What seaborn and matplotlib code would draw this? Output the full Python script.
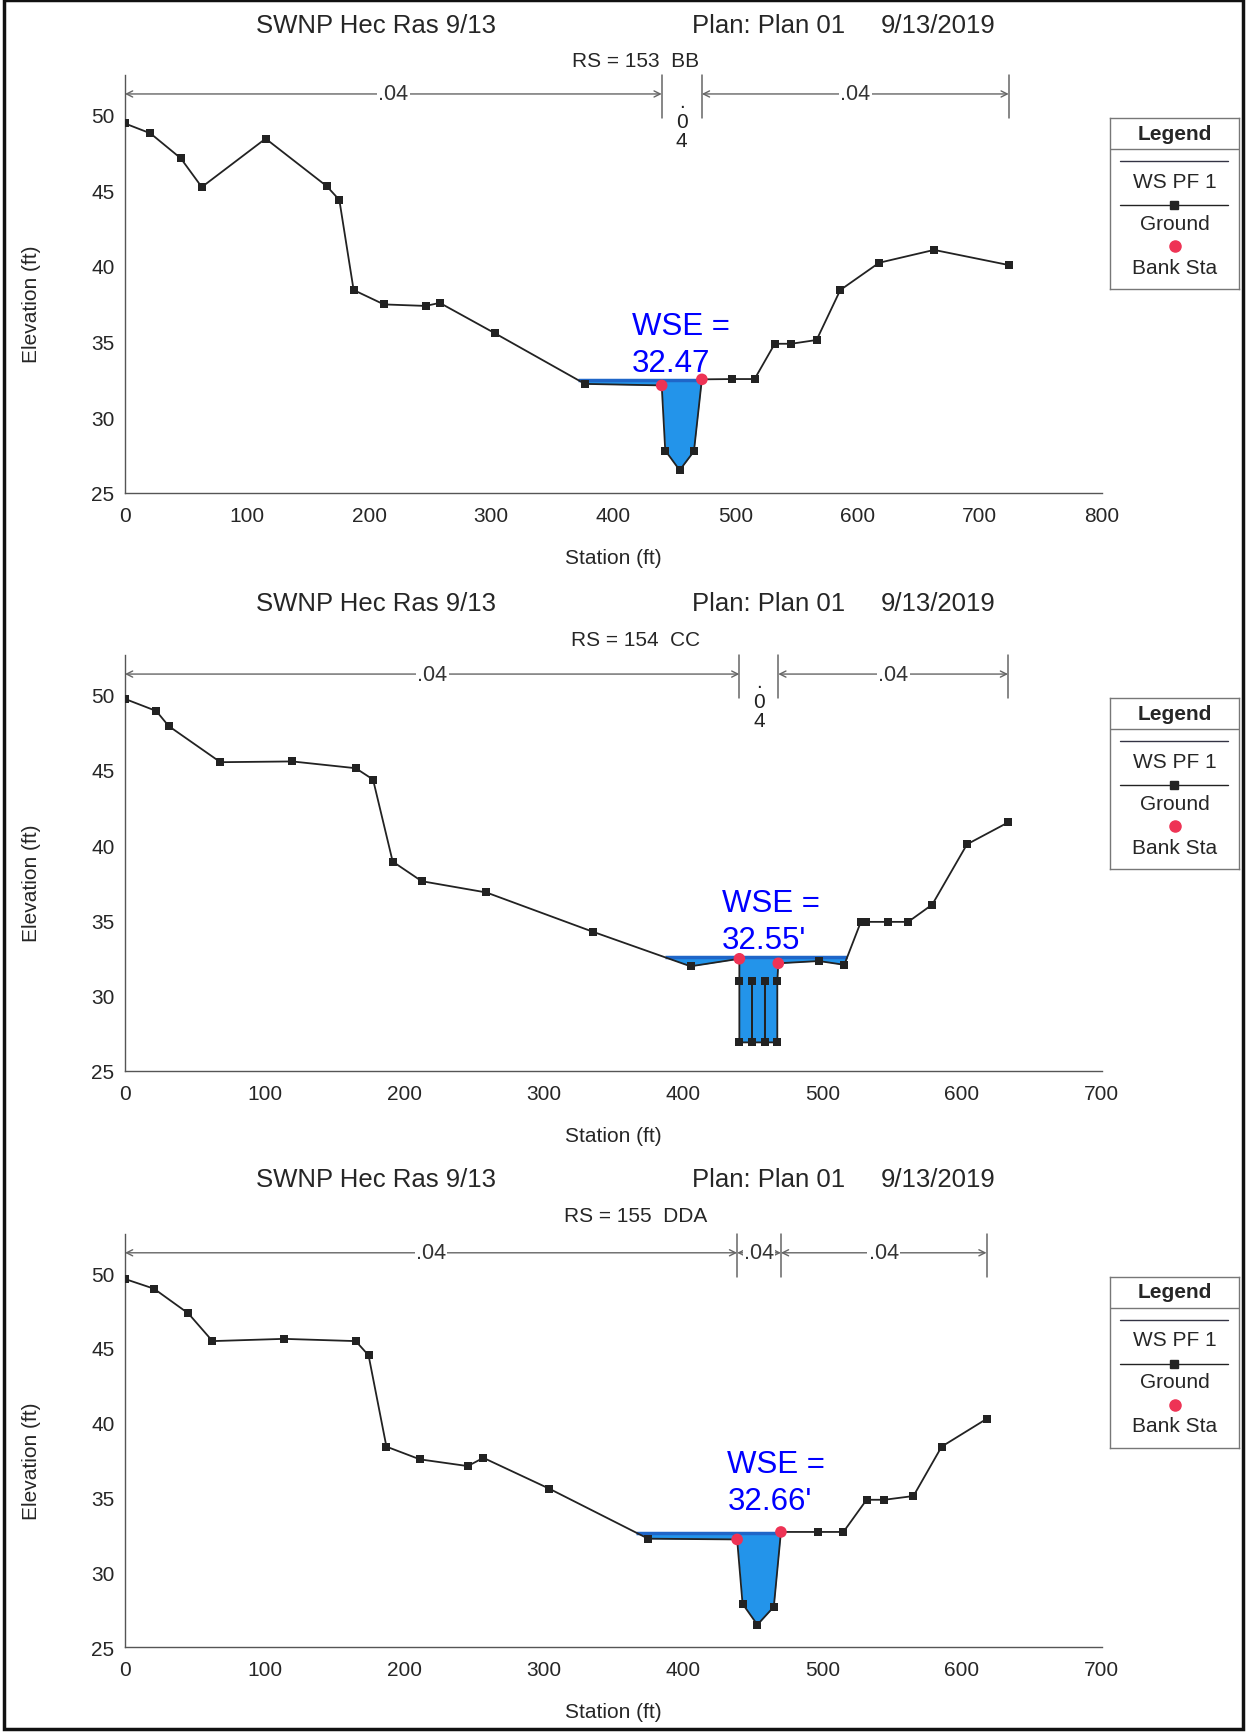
import numpy as np
import seaborn as sns
import matplotlib.pyplot as plt
from matplotlib.patches import Rectangle
from matplotlib.ticker import MultipleLocator

section_names = ["RS = 153  BB", "RS = 154  CC", "RS = 155  DDA"]
ws_elev = [32.47, 32.55, 32.66]
ws_suffix = ["", "'", "'"]
n_values = [".04", ".04", ".04"]

station_153 = [0, 20.8, 45.7, 62.9, 115.2, 165.4, 175.6, 187.3, 212.1, 246.2, 257.9,
               302.9, 376.8, 439.7, 442.6, 454.4, 466.1, 472.6, 497.4, 515.8, 532.3,
               545.8, 566.6, 586.0, 617.8, 662.8, 724.0]
elev_153 = [49.4, 48.75, 47.1, 45.2, 48.4, 45.25, 44.35, 38.4, 37.45, 37.35, 37.55,
            35.55, 32.2, 32.1, 27.8, 26.5, 27.75, 32.5, 32.52, 32.52, 34.85,
            34.85, 35.1, 38.4, 40.2, 41.05, 40.05]
bank_153 = [439.7, 472.6]

station_154 = [0, 22.4, 31.3, 68.4, 119.9, 165.4, 177.8, 191.9, 212.7, 259.1, 335.2,
               405.4, 440.4, 440.4, 440.4, 449.4, 449.4, 449.4, 458.7, 458.7, 458.7,
               467.6, 467.6, 468.3, 497.4, 515.6, 527.5, 531.0, 546.7, 561.4, 578.7,
               603.6, 633.0]
elev_154 = [49.7, 48.9, 47.9, 45.5, 45.55, 45.1, 44.35, 38.9, 37.6, 36.85, 34.25,
            31.95, 32.45, 30.95, 26.9, 26.9, 30.95, 26.9, 26.9, 30.95, 26.9,
            26.9, 30.95, 32.15, 32.3, 32.05, 34.9, 34.9, 34.9, 34.9, 36.05,
            40.05, 41.5]
bank_154 = [440.4, 468.3]

station_155 = [0, 20.8, 45.4, 62.7, 113.9, 165.4, 174.6, 187.4, 211.4, 245.7, 256.9,
               303.9, 375.0, 438.8, 442.7, 453.3, 465.1, 470.2, 496.7, 515.0, 531.6,
               544.4, 565.2, 585.4, 617.6]
elev_155 = [49.6, 48.95, 47.3, 45.45, 45.6, 45.45, 44.5, 38.4, 37.55, 37.1, 37.65,
            35.6, 32.25, 32.2, 27.9, 26.5, 27.7, 32.7, 32.7, 32.7, 34.85,
            34.85, 35.1, 38.4, 40.25]
bank_155 = [438.8, 470.2]

stations = [station_153, station_154, station_155]
elevs = [elev_153, elev_154, elev_155]
banks = [bank_153, bank_154, bank_155]
x_max = [800, 700, 700]
x_minor = [50, 20, 20]
stacked_mid = [True, True, False]

# ---- layout (pixels of the 1246 x 1733 page) ----
W, H = 1246, 1733
y25_px = [493.9, 1072.0, 1648.2]
y50_px = [115.4, 695.4, 1274.0]
wse_pos = [(415, 35.5, 33.07), (427.7, 35.6, 33.15), (431.8, 36.73, 34.26)]
YTOP = 52.6

GROUND = "#222222"
WATER = "#2394EA"
WS_LINE = "#1F66C8"
BANK = "#EE3355"
NGRAY = "#666666"


def fx(x):
    return x / W


def fy(y):
    return 1 - y / H


sns.set_style("white")
plt.rcParams["font.family"] = ["Liberation Sans", "DejaVu Sans"]

fig = plt.figure(figsize=(12.46, 17.33), dpi=100)

for i in range(3):
    st = np.array(stations[i], dtype=float)
    el = np.array(elevs[i], dtype=float)
    ws = ws_elev[i]
    y25, y50 = y25_px[i], y50_px[i]
    ppf = (y25 - y50) / 25.0
    ytop = y50 - (YTOP - 50) * ppf
    ax = fig.add_axes([fx(125), fy(y25), fx(1101.5) - fx(125), (y25 - ytop) / H])

    # water
    wet = el < ws
    ax.fill_between(st, el, ws, where=wet, interpolate=True, color=WATER, lw=0, zorder=2)
    idx = np.where(wet)[0]
    i0, i1 = idx[0], idx[-1]
    xl = np.interp(ws, [el[i0], el[i0 - 1]], [st[i0], st[i0 - 1]])
    xr = np.interp(ws, [el[i1], el[i1 + 1]], [st[i1], st[i1 + 1]])
    ax.plot([xl, xr], [ws, ws], color=WS_LINE, lw=2.5, zorder=3, solid_capstyle="butt")

    # ground
    sns.lineplot(x=st, y=el, sort=False, estimator=None, color=GROUND, lw=1.3,
                 marker="s", markersize=5.5, markeredgewidth=0, ax=ax, zorder=4)

    # bank stations
    bx = banks[i]
    by = [el[np.where(st == b)[0][0]] for b in bx]
    sns.scatterplot(x=bx, y=by, color=BANK, s=70, edgecolor="none", zorder=5,
                    ax=ax, legend=False)

    # WSE callout
    wx, wy1, wy2 = wse_pos[i]
    ax.text(wx, wy1, "WSE =", color="#0000FF", fontsize=22.5, ha="left", va="baseline", zorder=6)
    ax.text(wx, wy2, f"{ws:.2f}{ws_suffix[i]}", color="#0000FF", fontsize=22.5,
            ha="left", va="baseline", zorder=6)

    # Manning's n bar along the top
    bounds = [st[0], bx[0], bx[1], st[-1]]
    y_arrow = 51.35
    for k in range(3):
        a, b = bounds[k], bounds[k + 1]
        if stacked_mid[i] and k == 1:
            ax.text((a + b) / 2, 49.55, "\n".join(n_values[k]), ha="center", va="center",
                    fontsize=15, color="#222", linespacing=1.05)
            continue
        ax.annotate("", xy=(a, y_arrow), xytext=(b, y_arrow),
                    arrowprops=dict(arrowstyle="<->", color=NGRAY, lw=1,
                                    shrinkA=0, shrinkB=0, mutation_scale=11))
        ax.text((a + b) / 2, y_arrow, n_values[k], ha="center", va="center", fontsize=15.5,
                color="#333", bbox=dict(fc="white", ec="none", pad=1.0), zorder=3)
    for b in bounds[1:]:
        ax.plot([b, b], [49.75, YTOP], color=NGRAY, lw=1.1, clip_on=False)

    # axes styling
    ax.set_xlim(0, x_max[i])
    ax.set_ylim(25, YTOP)
    ax.set_xticks(range(0, x_max[i] + 1, 100))
    ax.set_yticks(range(25, 51, 5))
    ax.xaxis.set_minor_locator(MultipleLocator(x_minor[i]))
    ax.yaxis.set_minor_locator(MultipleLocator(1))
    sns.despine(ax=ax)
    for s in ["left", "bottom"]:
        ax.spines[s].set_color("#555")
        ax.spines[s].set_linewidth(1)
    ax.tick_params(which="major", direction="inout", length=6, width=1, color="#555",
                   labelsize=15)
    ax.tick_params(which="minor", direction="inout", length=4, width=0.8, color="#777")
    ax.tick_params(axis="x", which="major", pad=6.5)
    ax.tick_params(axis="y", which="major", pad=4.5)
    ax.set_xlabel("Station (ft)", fontsize=15)
    ax.set_ylabel("Elevation (ft)", fontsize=15)
    ax.xaxis.set_label_coords(0.5, -55 / (y25 - ytop))
    ax.yaxis.set_label_coords((41 - 125) / 976.5, (y25 - (y25 + y50) / 2) / (y25 - ytop))

    # headings
    ty = y25 - 468
    fig.text(fx(376), fy(ty), "SWNP Hec Ras 9/13", ha="center", va="center", fontsize=18.5)
    fig.text(fx(692), fy(ty), "Plan: Plan 01", ha="left", va="center", fontsize=18.5)
    fig.text(fx(995.5), fy(ty), "9/13/2019", ha="right", va="center", fontsize=18.5)
    fig.text(fx(636), fy(y25 - 432), section_names[i], ha="center", va="center", fontsize=15)

    # legend box (symbol above label, HEC-RAS style)
    top = y50 + 4
    lax = fig.add_axes([fx(1110), fy(top + 171), fx(1239) - fx(1110), 171 / H])
    lax.set_xlim(0, 129)
    lax.set_ylim(171, 0)
    lax.set_xticks([])
    lax.set_yticks([])
    for s in lax.spines.values():
        s.set_color("#777")
        s.set_linewidth(1)
        s.set_visible(True)
    lax.text(64.5, 15, "Legend", ha="center", va="center", fontsize=15, fontweight="bold")
    lax.plot([0, 129], [31, 31], color="#777", lw=1)
    lax.plot([10, 118], [43, 43], color="#334", lw=1)
    lax.text(64.5, 63, "WS PF 1", ha="center", va="center", fontsize=15)
    lax.plot([10, 118], [86.7, 86.7], color=GROUND, lw=1, zorder=2)
    lax.plot([64], [86.7], color=GROUND, marker="s", markersize=5.5, ls="none")
    lax.text(64.5, 105, "Ground", ha="center", va="center", fontsize=15)
    lax.plot([64.5], [128], color=BANK, marker="o", markersize=8, ls="none")
    lax.text(64.5, 149, "Bank Sta", ha="center", va="center", fontsize=15)

# scanned page frame
fig.add_artist(Rectangle((fx(4), fy(1730)), fx(1243) - fx(4), (1730 - 1) / H,
                         transform=fig.transFigure, fill=False, ec="#111", lw=2.5))

fig.savefig("out.png", dpi=100, facecolor="white")
